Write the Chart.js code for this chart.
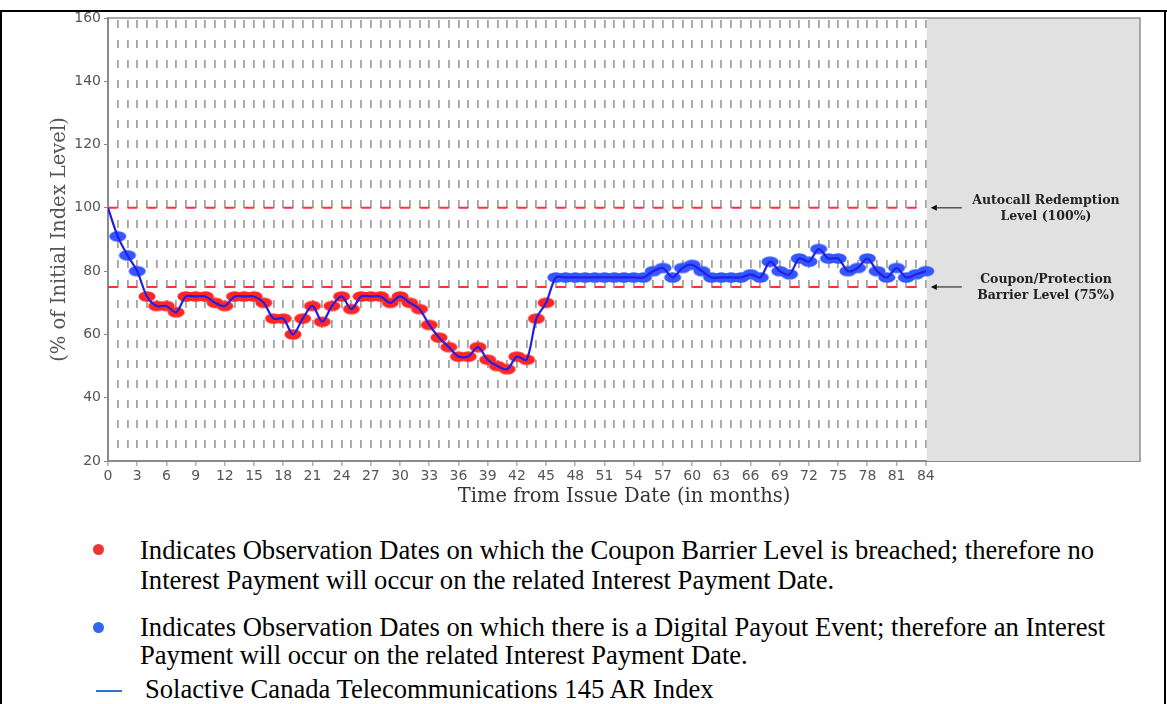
<!DOCTYPE html>
<html><head><meta charset="utf-8">
<script src="https://cdn.jsdelivr.net/npm/chart.js@4.4.1/dist/chart.umd.min.js"></script>
<style>
html,body{margin:0;padding:0;background:#fff;}
body{width:1167px;height:704px;position:relative;overflow:hidden;}
#wrap{position:absolute;left:0;top:0;width:1167px;height:530px;}
.t{position:absolute;font-family:"Liberation Serif","Times New Roman",serif;font-size:26.6px;line-height:26.6px;color:#000;white-space:nowrap;}
.dot{position:absolute;width:11px;height:11px;border-radius:50%;}
.rule{position:absolute;background:#000;}
</style></head><body>
<div id="wrap"><canvas id="c" width="1167" height="530"></canvas></div>
<div class="rule" style="left:2px;top:10px;width:1165px;height:2px"></div>
<div class="rule" style="left:0;top:10px;width:2px;height:694px"></div>
<div class="rule" style="left:1164px;top:10px;width:2px;height:694px"></div>

<div class="dot" style="left:93px;top:544px;background:#ee3333"></div>
<div class="t" style="left:140px;top:537px">Indicates Observation Dates on which the Coupon Barrier Level is breached; therefore no</div>
<div class="t" style="left:140px;top:567px">Interest Payment will occur on the related Interest Payment Date.</div>
<div class="dot" style="left:93px;top:622px;background:#3366ee"></div>
<div class="t" style="left:140px;top:614px">Indicates Observation Dates on which there is a Digital Payout Event; therefore an Interest</div>
<div class="t" style="left:140px;top:642px">Payment will occur on the related Interest Payment Date.</div>
<div class="rule" style="left:96px;top:690px;width:26px;height:2px;background:#2f75c5"></div>
<div class="t" style="left:145px;top:676px">Solactive Canada Telecommunications 145 AR Index</div>

<script>
// ---- data ----
const months = [0,1,2,3,4,5,6,7,8,9,10,11,12,13,14,15,16,17,18,19,20,21,22,23,24,25,26,27,28,29,30,31,32,33,34,35,36,37,38,39,40,41,42,43,44,45,46,47,48,49,50,51,52,53,54,55,56,57,58,59,60,61,62,63,64,65,66,67,68,69,70,71,72,73,74,75,76,77,78,79,80,81,82,83,84];
const indexLevel = [100,91,85,80,72,69,69,67,72,72,72,70,69,72,72,72,70,65,65,60,65,69,64,69,72,68,72,72,72,70,72,70,68,63,59,56,53,53,56,52,50,49,53,52,65,70,78,78,78,78,78,78,78,78,78,78,80,81,78,81,82,80,78,78,78,78,79,78,83,80,79,84,83,87,84,84,80,81,84,80,78,81,78,79,80];
const couponBarrier = 75;
const autocallLevel = 100;
const referenceLevels = [autocallLevel, couponBarrier];
const referenceLabels = [["Autocall Redemption","Level (100%)"],["Coupon/Protection","Barrier Level (75%)"]];
const observationEnd = 84;
const axisEnd = 106;
const yTicks = [20,40,60,80,100,120,140,160];

function blob(color){
  const c=document.createElement('canvas'); c.width=22; c.height=15;
  const g=c.getContext('2d'); g.filter='blur(0.6px)'; g.fillStyle=color;
  g.beginPath(); g.ellipse(11,7.5,8.5,5.2,0,0,Math.PI*2); g.fill(); return c;
}
const redBlob = blob('#ff2626'), blueBlob = blob('#3557ff');

const pts = months.map((m,i)=>({x:m,y:indexLevel[i]}));
const refSets = referenceLevels.map(v=>({
  data:[{x:0,y:v},{x:observationEnd,y:v}], borderColor:'#ff3333', borderWidth:2,
  borderDash:[9.74,9.74], pointRadius:0, tension:0
}));

const decor = {
  id:'decor',
  beforeDatasetsDraw(chart){
    const {ctx, chartArea:a, scales:{x}} = chart;
    const x84 = x.getPixelForValue(observationEnd);
    ctx.save(); ctx.fillStyle='#e1e1e1';
    ctx.fillRect(x84+1, a.top, a.right-x84-1, a.bottom-a.top);
    ctx.restore();
  },
  afterDraw(chart){
    const {ctx, chartArea:a, scales:{x,y}} = chart;
    ctx.save();
    ctx.strokeStyle='#8f8f8f'; ctx.lineWidth=1.5;
    ctx.beginPath(); ctx.moveTo(a.left,a.top); ctx.lineTo(a.right,a.top); ctx.lineTo(a.right,a.bottom); ctx.stroke();
    const x84 = x.getPixelForValue(observationEnd);
    referenceLevels.forEach((v,k)=>{
      const py = y.getPixelForValue(v);
      ctx.strokeStyle='#111'; ctx.fillStyle='#111'; ctx.lineWidth=1;
      ctx.beginPath(); ctx.moveTo(x84+36,py); ctx.lineTo(x84+7,py); ctx.stroke();
      ctx.beginPath(); ctx.moveTo(x84+5,py); ctx.lineTo(x84+11,py-3); ctx.lineTo(x84+11,py+3); ctx.closePath(); ctx.fill();
      ctx.font='bold 12.5px "DejaVu Serif", serif'; ctx.textAlign='center'; ctx.textBaseline='middle';
      ctx.fillStyle='#222';
      ctx.fillText(referenceLabels[k][0], 1046, py-7);
      ctx.fillText(referenceLabels[k][1], 1046, py+9);
    });
    ctx.restore();
  }
};

new Chart(document.getElementById('c'), {
  type:'line',
  data:{datasets:[
    {data:pts, borderColor:'#1f1fe6', borderWidth:2.2, tension:0.3, pointRadius:0, fill:false},
    {data:pts, showLine:false,
      pointStyle: pts.map(p=> p.y < couponBarrier ? redBlob : blueBlob),
      pointRadius: pts.map((p,i)=> i===0 ? 0 : 5), pointHoverRadius:0},
    ...refSets
  ]},
  options:{
    responsive:false, animation:false, devicePixelRatio:1,
    layout:{padding:{left:0,right:27,top:18,bottom:17}},
    plugins:{legend:{display:false}, tooltip:{enabled:false}},
    events:[],
    scales:{
      x:{type:'linear', min:0, max:axisEnd,
        afterBuildTicks:s=>{ s.ticks = months.map(v=>({value:v})); },
        afterFit:s=>{ s.height=52; },
        ticks:{autoSkip:false, maxRotation:0, padding:2, color:'#555',
          font:{family:'DejaVu Sans', size:14},
          callback:v=> (v%3===0 && v<=observationEnd) ? String(v) : ''},
        grid:{lineWidth:1.8, tickLength:5, tickWidth:1,
          color:c=> (c.tick && c.tick.value>0) ? '#a3a3a3' : 'rgba(0,0,0,0)',
          tickColor:c=> (c.tick && c.tick.value%3===0) ? '#888' : 'rgba(0,0,0,0)',
          borderDash:[8,12], borderDashOffset:18},
        border:{display:true, color:'#8a8a8a', width:2, dash:[8,12], dashOffset:18},
        title:{display:true, text:'Time from Issue Date (in months)', color:'#333',
          font:{family:'DejaVu Serif', size:19.5}, padding:{top:0,bottom:4}}
      },
      y:{min:20, max:160,
        afterBuildTicks:s=>{ s.ticks = yTicks.map(v=>({value:v})); },
        afterFit:s=>{ s.width=108; },
        ticks:{padding:3, color:'#555', font:{family:'DejaVu Sans', size:14}},
        grid:{drawOnChartArea:false, drawTicks:true, tickLength:4, tickColor:'#888'},
        border:{display:true, color:'#8a8a8a', width:2},
        title:{display:true, text:'(% of Initial Index Level)', color:'#555',
          font:{family:'DejaVu Serif', size:19.5}, padding:{top:48,bottom:0}}
      }
    }
  },
  plugins:[decor]
});
</script>
</body></html>
